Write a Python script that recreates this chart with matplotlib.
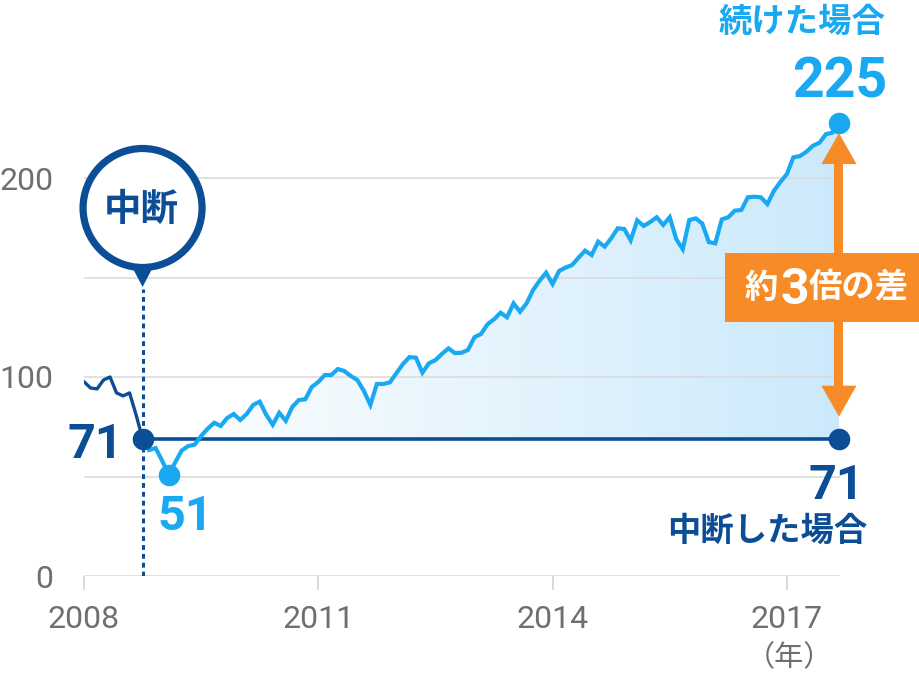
import numpy as np
import matplotlib.pyplot as plt
from matplotlib.colors import LinearSegmentedColormap
from matplotlib.patches import Circle, Polygon, Rectangle, PathPatch
from matplotlib.path import Path
from matplotlib.transforms import IdentityTransform

plt.rcParams['font.family'] = ['Roboto', 'Noto Sans CJK JP', 'DejaVu Sans']

W, H = 920, 682

# values (monthly, from Jan 2008)
dark_vals = [97.6, 94.5, 94, 98.5, 100, 92, 90.5, 92, 81, 69]
light_vals = [69, 63.3, 64.3, 58, 51, 57, 63, 65.3, 66, 70.4, 74, 77, 75.4, 79.4,
              81.4, 78.4, 81.4, 86, 87.6, 81, 76, 82, 78, 85, 88.4, 88.8, 95, 97.5,
              101, 101, 104, 103, 100.5, 98.5, 93, 86, 96.5, 96.5, 97.3, 101.9, 106.5,
              110, 109.7, 102.2, 106.9, 108.5, 111.6, 114.4, 112, 112.2, 113.6, 120,
              121.6, 126.5, 129, 132.3, 130, 137, 132.8, 137, 143.7, 148.4, 152.4,
              146.7, 153.3, 155, 156.3, 160, 163.5, 161.3, 168, 165.5, 169.7, 174.7,
              174.4, 168.7, 178.7, 175.9, 177.9, 180.3, 176.4, 180.3, 169.3, 164.2,
              178.9, 179.7, 177.1, 167.8, 167.2, 179.2, 180.3, 183.6, 183.9, 190.3,
              190.6, 190.3, 186.9, 193.5, 198, 202, 210.4, 211, 213.2, 216.2, 217.7,
              222, 222.8, 227.6]
base_val = 69
stop_year = 2008.75
low_idx = 4  # Feb 2009
x_ticks = [2008, 2011, 2014, 2017]
y_ticks = [0, 50, 100, 150, 200]
y_labels = ['0', '', '100', '', '200']

dark = '#0b4e96'
light = '#19a9f2'
orange = '#f68b27'
gray = '#6f6f6f'

t_dark = 2008 + np.arange(len(dark_vals)) / 12
t_light = stop_year + np.arange(len(light_vals)) / 12
y_light = np.array(light_vals)

fig = plt.figure(figsize=(W / 100, H / 100), dpi=100)
ax = fig.add_axes([84 / W, (H - 576) / H, 756 / W, 476 / H])

# gradient fill between the light line and the stop level
fb = ax.fill_between(t_light, y_light, base_val, where=y_light >= base_val,
                     interpolate=True, facecolor='none', edgecolor='none')
clip = PathPatch(Path.make_compound_path(*fb.get_paths()), transform=ax.transData,
                 facecolor='none', edgecolor='none')
ax.add_patch(clip)
cmap = LinearSegmentedColormap.from_list('g', ['#ffffff', '#cce9fb'])
grad = np.linspace(0, 1, 256).reshape(1, -1)
im = ax.imshow(grad, extent=[t_light[0], t_light[-1], base_val, 240], aspect='auto',
               cmap=cmap, zorder=1, interpolation='bilinear')
im.set_clip_path(clip)

ax.set_xlim(2008, 2017.68)
ax.set_ylim(0, 476 / 1.99)

for s in ax.spines.values():
    s.set_visible(False)
ax.set_axisbelow('line')
ax.grid(axis='y', color='#d9d9d9', lw=1.1)
ax.set_xticks(x_ticks)
ax.set_xticklabels([str(x) for x in x_ticks])
ax.set_yticks(y_ticks)
ax.set_yticklabels(y_labels)
ax.tick_params(axis='x', length=10, width=1.1, color='#d0d0d0', labelcolor=gray,
               labelsize=23, pad=11)
ax.tick_params(axis='y', length=0, labelcolor=gray, labelsize=23, pad=22)

# lines
ax.plot([stop_year, stop_year], [0, 144], color=dark, lw=2.2, dashes=(1.6, 1.3), zorder=3)
ax.plot(t_dark, dark_vals, color=dark, lw=2.4, zorder=4)
ax.plot([stop_year, t_light[-1]], [base_val, base_val], color=dark, lw=2.6, zorder=4)
ax.plot(t_light, y_light, color=light, lw=3, zorder=5, solid_joinstyle='miter')
ax.plot([stop_year, t_light[-1]], [base_val, base_val], 'o', ms=14.5, color=dark,
        zorder=6, clip_on=False)
ax.plot(t_light[low_idx], y_light[low_idx], 'o', ms=14.5, color=light, zorder=6, clip_on=False)
ax.plot(t_light[-1], y_light[-1], 'o', ms=14.5, color=light, zorder=6, clip_on=False)

idt = IdentityTransform()


def disp(x, y):
    return ax.transData.transform((x, y))


# bubble "中断"
bx, _ = disp(stop_year, 0)
by = H - 208
ax.add_patch(Polygon([(bx - 12, by - 56), (bx + 12, by - 56), (bx, H - 287)], closed=True,
                     facecolor=dark, edgecolor='none', transform=idt, clip_on=False, zorder=7))
ax.add_patch(Circle((bx, by), 59.5, facecolor='white', edgecolor=dark, lw=5.2,
                    transform=idt, clip_on=False, zorder=8))

# orange double arrow
ex, ey = disp(t_light[-1], y_light[-1])
_, b_y = disp(t_light[-1], base_val)
top_tip = ey - 10
bot_tip = b_y + 22
hl, hw = 31, 17.5
ax.add_patch(Rectangle((ex - 4.5, bot_tip + hl - 1), 9, (top_tip - hl) - (bot_tip + hl) + 2,
                       facecolor=orange, edgecolor='none', transform=idt, clip_on=False, zorder=7))
ax.add_patch(Polygon([(ex - hw, top_tip - hl), (ex + hw, top_tip - hl), (ex, top_tip)],
                     facecolor=orange, edgecolor='none', transform=idt, clip_on=False, zorder=7))
ax.add_patch(Polygon([(ex - hw, bot_tip + hl), (ex + hw, bot_tip + hl), (ex, bot_tip)],
                     facecolor=orange, edgecolor='none', transform=idt, clip_on=False, zorder=7))
ax.add_patch(Rectangle((725, H - 322), 200, 69, facecolor=orange, edgecolor='none',
                       transform=idt, clip_on=False, zorder=8))


def ptext(x, y, s, **kw):
    fig.text(x / W, 1 - y / H, s, **kw)


jp = dict(family=['Noto Sans CJK JP', 'DejaVu Sans'], weight='bold')
num = dict(family=['Roboto', 'DejaVu Sans'], weight='bold')

ptext(141, 209, '中断', color=dark, fontsize=27, ha='center', va='center', zorder=10, **jp)
ptext(123, 458, '71', color=dark, fontsize=35, ha='right', va='baseline', **num)
ptext(185, 530, '51', color=light, fontsize=35, ha='center', va='baseline', **num)
ptext(887, 97, '225', color=light, fontsize=40, ha='right', va='baseline', **num)
ptext(885, 22, '続けた場合', color=light, fontsize=24, ha='right', va='center', **jp)
ptext(864, 499, '71', color=dark, fontsize=35, ha='right', va='baseline', **num)
ptext(867, 531, '中断した場合', color=dark, fontsize=24, ha='right', va='center', **jp)
ptext(761, 288, '約', color='white', fontsize=24, ha='center', va='center', zorder=10, **jp)
ptext(795, 304, '3', color='white', fontsize=36, ha='center', va='baseline', zorder=10, **num)
ptext(859, 288, '倍の差', color='white', fontsize=24, ha='center', va='center', zorder=10, **jp)
ptext(789, 658, '（年）', color=gray, fontsize=21, ha='center', va='center',
      family=['Noto Sans CJK JP', 'DejaVu Sans'])

fig.savefig('out.png', dpi=100)
